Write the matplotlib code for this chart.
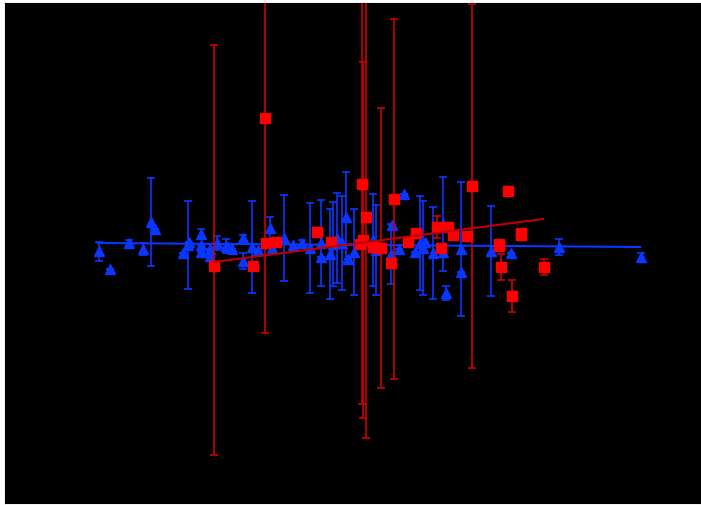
import matplotlib
matplotlib.use("Agg")
import matplotlib.pyplot as plt
import numpy as np

# ---------------- dados ----------------
# serie azul (triangulos)
x_azul = [99, 110, 129, 143, 151, 155, 183, 188, 189, 201, 201, 201, 210, 210,
          217, 226, 228, 232, 243, 243, 252, 258, 270, 272, 284, 293, 302, 310,
          321, 321, 330, 333, 337, 342, 346, 348, 354, 373, 376, 391, 392, 399,
          404, 415, 420, 423, 425, 433, 443, 443, 446, 461, 461, 491, 511, 559, 641]
y_azul = [2, -16, 10, 4, 31, 24, 0, 8, 11, 19, 8, 1, 4, -3,
          10, 7, 6, 4, 15, -8, 6, 3, 25, 5, 15, 8, 10, 5,
          10, -4, -1, 9, 15, 10, 36, -6, 1, 13, 3, -1, 28, 4,
          59, 1, 10, 5, 11, 0, 29, 1, -40, 4, -19, 2, 0, 6, -4]
err_azul = [9.5, 0, 3, 6, 44, 0, 0, 44, 0, 5, 0, 0, 0, 0,
            7, 7, 0, 0, 3, 8, 46, 0, 11, 0, 43, 0, 3, 45,
            43, 0, 45, 42, 45, 47, 45, 0, 43, 46, 45, 30, 0, 0,
            0, 0, 47, 47, 0, 46, 47, 0, 7, 67, 0, 45, 0, 8, 4]

# serie vermelha (quadrados), erros assimetricos (baixo, cima)
x_verm = [214, 253, 265, 266, 276, 317, 331, 360, 362, 366, 363, 373, 380, 381,
          391, 394, 408, 416, 437, 448, 453, 467, 441, 472, 508, 499, 499, 501,
          512, 521, 521, 544]
y_verm = [-13, -13, 135, 10, 11, 21, 11, 9, 69, 36, 13, 6, 5, 5,
          -10, 54, 11, 20, 26, 26, 18, 17, 5, 67, 62, 9, 7, -14,
          -43, 20, 18, -14]
err_baixo = [189, 0, 215, 0, 0, 0, 0, 0, 220, 221, 178, 0, 0, 140,
             0, 180, 0, 0, 11, 0, 0, 0, 0, 182, 0, 0, 0, 13,
             16, 0, 0, 8]
err_cima = [221, 0, 215, 0, 0, 0, 0, 0, 220, 221, 178, 0, 0, 140,
            0, 180, 0, 0, 11, 0, 0, 0, 0, 182, 0, 0, 0, 13,
            16, 0, 0, 8]

# retas de ajuste
x_fit_azul = [98, 640]
y_fit_azul = [10, 6]
x_fit_verm = [214, 543]
y_fit_verm = [-9, 34]

# ---------------------Desenho do gráfico------------------
azul = '#0a37ff'
fig = plt.figure(figsize=(7.01, 5.05), dpi=100, facecolor='white')
ax = fig.add_axes([5 / 701, 2 / 505, 696 / 701, 500 / 505])
ax.set_facecolor('black')

ax.plot(x_fit_azul, y_fit_azul, color=azul, lw=1.5, zorder=1)
ax.errorbar(x_azul, y_azul, yerr=err_azul, fmt='^', color=azul, ms=7,
            ecolor=azul, elinewidth=1.2, capsize=3, capthick=1.2, zorder=2)

ax.errorbar(x_verm, y_verm, yerr=[err_baixo, err_cima], fmt='s', color='#ff0000',
            ms=7.5, ecolor='#cc0000', elinewidth=1.2, capsize=3, capthick=1.2, zorder=3)
ax.plot(x_fit_verm, y_fit_verm, color='#c00000', lw=1.5, zorder=4)

ax.set_xlim(5, 701)
ax.set_ylim(-250, 250)
ax.set_xticks([])
ax.set_yticks([])
for s in ax.spines.values():
    s.set_color('black')

plt.savefig("out.png", dpi=100, facecolor='white')
